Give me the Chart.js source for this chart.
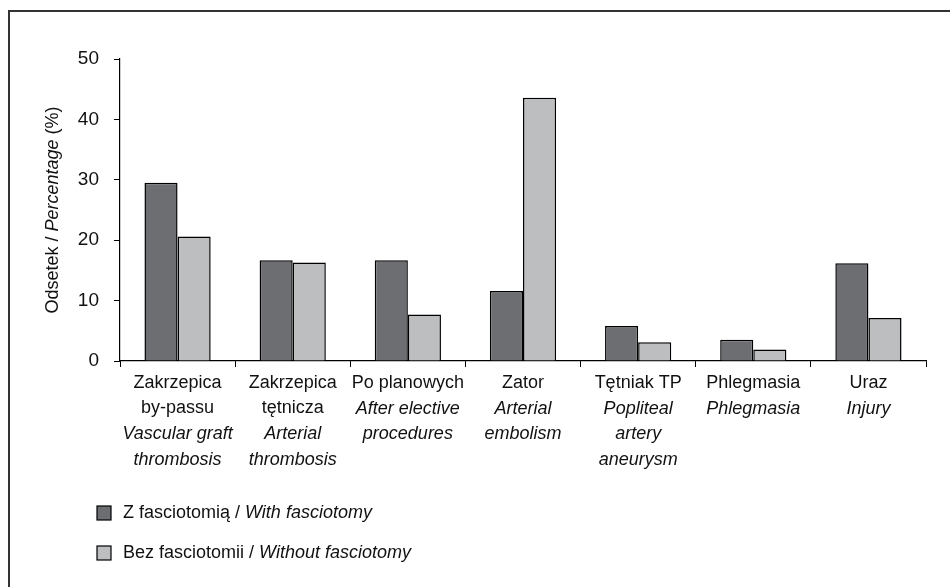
<!DOCTYPE html>
<html>
<head>
<meta charset="utf-8">
<script src="https://cdn.jsdelivr.net/npm/chart.js@4"></script>
<style>
    html, body { margin: 0; padding: 0; background: #fff; }
    #wrap { position: relative; width: 950px; height: 587px; }
    #frame { position: absolute; left: 8px; top: 10px; right: 0; bottom: 0;
             border-left: 2px solid #333; border-top: 2px solid #333; }
    canvas { position: absolute; left: 0; top: 0; }
</style>
</head>
<body>
<div id="wrap">
    <div id="frame"></div>
    <canvas id="chart" width="950" height="587"></canvas>
</div>
<script>
// ========================================
// Data
// ========================================

const categoriesPl = [
    ['Zakrzepica', 'by-passu'],
    ['Zakrzepica', 'tętnicza'],
    ['Po planowych'],
    ['Zator'],
    ['Tętniak TP'],
    ['Phlegmasia'],
    ['Uraz']
];
const categoriesEn = [
    ['Vascular graft', 'thrombosis'],
    ['Arterial', 'thrombosis'],
    ['After elective', 'procedures'],
    ['Arterial', 'embolism'],
    ['Popliteal', 'artery', 'aneurysm'],
    ['Phlegmasia'],
    ['Injury']
];
const withFasciotomy = [29.5, 16.7, 16.7, 11.6, 5.8, 3.5, 16.2];
const withoutFasciotomy = [20.6, 16.3, 7.7, 43.6, 3.1, 1.9, 7.1];
const seriesPl = ['Z fasciotomią', 'Bez fasciotomii'];
const seriesEn = ['With fasciotomy', 'Without fasciotomy'];
const yMax = 50;
const yStep = 10;

const FONT = "'Liberation Sans', Arial, sans-serif";
const TEXT = '#111';

// ========================================
// Custom text drawing (mixed roman / italic)
// ========================================

function drawMixed(ctx, parts, x, y, size) {
    // parts: [[text, italic], ...], drawn left to right from x
    let cx = x;
    parts.forEach(([t, it]) => {
        ctx.font = (it ? 'italic ' : '') + size + 'px ' + FONT;
        ctx.fillText(t, cx, y);
        cx += ctx.measureText(t).width;
    });
}

function mixedWidth(ctx, parts, size) {
    let w = 0;
    parts.forEach(([t, it]) => {
        ctx.font = (it ? 'italic ' : '') + size + 'px ' + FONT;
        w += ctx.measureText(t).width;
    });
    return w;
}

const textPlugin = {
    id: 'mixedText',
    afterDraw(chart) {
        const ctx = chart.ctx;
        const x = chart.scales.x;
        const y = chart.scales.y;
        ctx.save();
        ctx.fillStyle = TEXT;
        ctx.textBaseline = 'middle';

        // category labels
        ctx.textAlign = 'center';
        categoriesPl.forEach((lines, i) => {
            const cx = x.getPixelForValue(i);
            let ty = x.top + 22;
            lines.forEach(l => {
                ctx.font = '18px ' + FONT;
                ctx.fillText(l, cx, ty);
                ty += 25.5;
            });
            categoriesEn[i].forEach(l => {
                ctx.font = 'italic 18px ' + FONT;
                ctx.fillText(l, cx, ty);
                ty += 25.5;
            });
        });

        // y axis title
        ctx.save();
        ctx.translate(53, (y.top + y.bottom) / 2);
        ctx.rotate(-Math.PI / 2);
        ctx.textAlign = 'left';
        const title = [['Odsetek / ', false], ['Percentage', true], [' (%)', false]];
        drawMixed(ctx, title, -mixedWidth(ctx, title, 18) / 2, 0, 18);
        ctx.restore();

        // legend
        ctx.textAlign = 'left';
        chart.data.datasets.forEach((ds, i) => {
            const ly = 513 + i * 40;
            ctx.fillStyle = ds.backgroundColor;
            ctx.fillRect(97, ly - 7, 14, 14);
            ctx.strokeStyle = '#000';
            ctx.lineWidth = 1.2;
            ctx.strokeRect(97, ly - 7, 14, 14);
            ctx.fillStyle = TEXT;
            drawMixed(ctx, [[seriesPl[i] + ' / ', false], [seriesEn[i], true]], 123, ly, 18);
        });
        ctx.restore();
    }
};

// ========================================
// Chart
// ========================================

new Chart(document.getElementById('chart'), {
    type: 'bar',
    data: {
        labels: categoriesPl.map(l => l.join(' ')),
        datasets: [{
            label: seriesPl[0],
            data: withFasciotomy,
            backgroundColor: '#6d6e71',
            borderColor: '#000',
            borderWidth: 1.5,
            borderSkipped: 'bottom'
        }, {
            label: seriesPl[1],
            data: withoutFasciotomy,
            backgroundColor: '#bcbec0',
            borderColor: '#000',
            borderWidth: 1.5,
            borderSkipped: 'bottom'
        }]
    },
    options: {
        responsive: false,
        animation: false,
        layout: { padding: { left: 0, right: 24, top: 59, bottom: 0 } },
        plugins: {
            legend: { display: false },
            tooltip: { enabled: false }
        },
        datasets: {
            bar: { categoryPercentage: 0.575, barPercentage: 1 }
        },
        scales: {
            x: {
                ticks: { display: false },
                grid: {
                    display: true,
                    drawOnChartArea: false,
                    drawTicks: true,
                    tickLength: 6,
                    color: '#000',
                    offset: true
                },
                border: { color: '#000', width: 1.2 },
                afterFit(scale) { scale.height = 226; }
            },
            y: {
                min: 0,
                max: yMax,
                ticks: {
                    stepSize: yStep,
                    color: TEXT,
                    padding: 15,
                    font: { family: FONT, size: 19 }
                },
                grid: {
                    drawOnChartArea: false,
                    drawTicks: true,
                    tickLength: 6,
                    color: '#000'
                },
                border: { color: '#000', width: 1.2 },
                afterFit(scale) { scale.width = 120; }
            }
        }
    },
    plugins: [textPlugin]
});
</script>
</body>
</html>
